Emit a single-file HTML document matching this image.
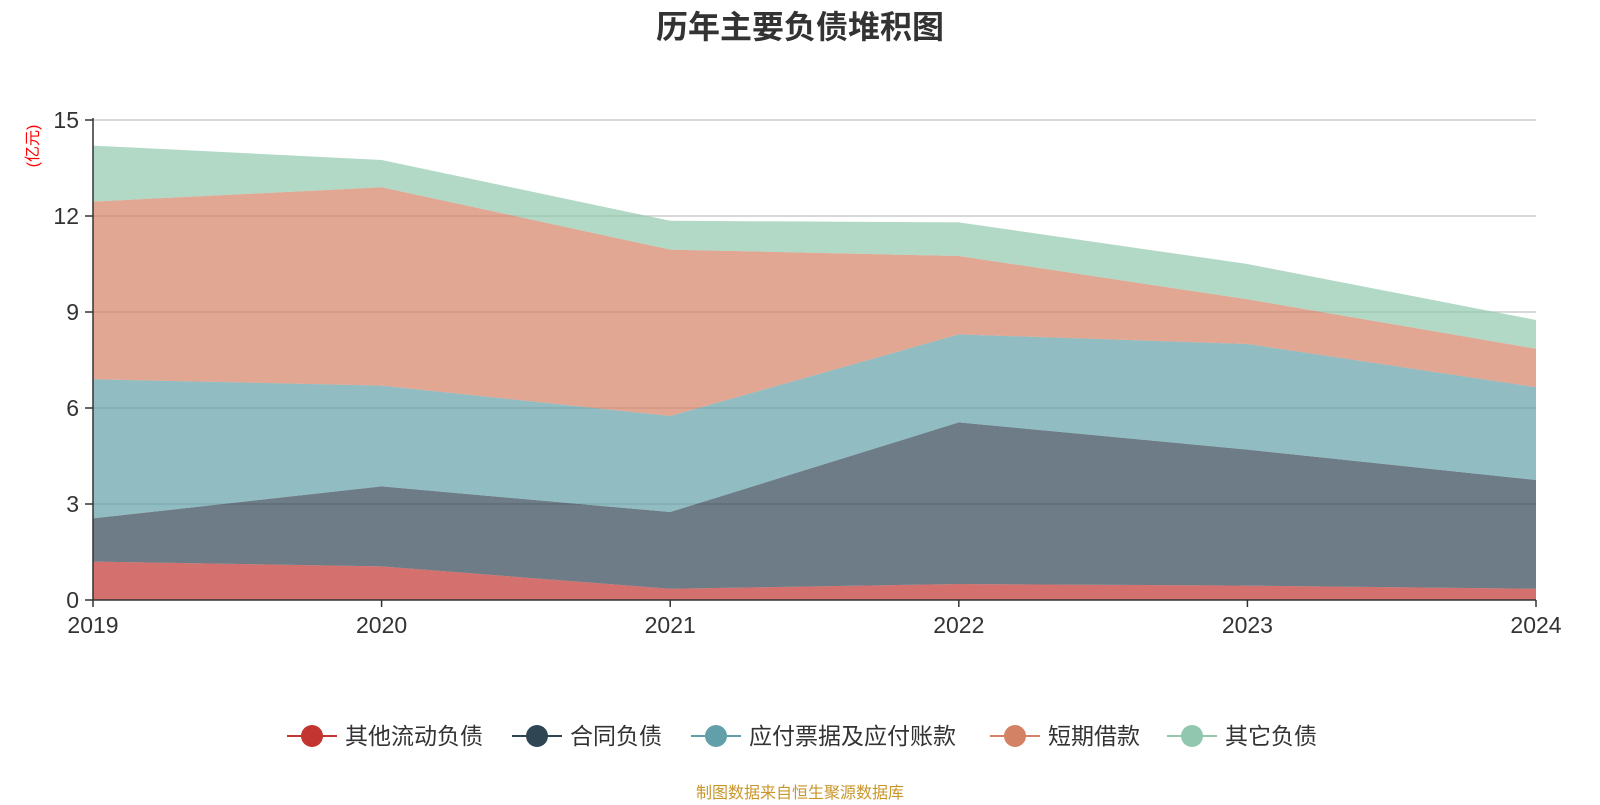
<!DOCTYPE html>
<html><head><meta charset="utf-8"><style>
body{margin:0;background:#fff;font-family:"Liberation Sans","Noto Sans CJK SC",sans-serif}
</style></head><body>
<svg id="c" width="1600" height="800" xmlns="http://www.w3.org/2000/svg" font-family="Liberation Sans, Noto Sans CJK SC, sans-serif">
<text x="800" y="38" text-anchor="middle" font-size="32" font-weight="bold" fill="#333">历年主要负债堆积图</text>
<text transform="translate(38,146) rotate(-90)" text-anchor="middle" font-size="16" fill="#f00">(亿元)</text>
<g id="grid"></g><g id="areas"></g><g id="axes"></g><g id="legend"></g>
<text x="800" y="798" text-anchor="middle" font-size="16" fill="#c8962a">制图数据来自恒生聚源数据库</text>
</svg>
<script>
const categories=["2019","2020","2021","2022","2023","2024"];
const seriesNames=["其他流动负债","合同负债","应付票据及应付账款","短期借款","其它负债"];
const s1=[1.2,1.05,0.35,0.5,0.45,0.35];
const s2=[1.35,2.5,2.4,5.05,4.25,3.4];
const s3=[4.35,3.15,3.0,2.75,3.3,2.9];
const s4=[5.55,6.2,5.2,2.45,1.4,1.2];
const s5=[1.75,0.85,0.9,1.05,1.1,0.9];
const yTicks=[0,3,6,9,12,15];
const colors=["#c23531","#2f4554","#61a0a8","#d48265","#91c7ae"];
const X0=93,X1=1536,Y0=600,Y1=120,YMAX=15;
const x=i=>X0+(X1-X0)*i/(categories.length-1);
const y=v=>Y0-(Y0-Y1)*v/YMAX;
const NS="http://www.w3.org/2000/svg";
function mk(t,a,p){const e=document.createElementNS(NS,t);for(const k in a)e.setAttribute(k,a[k]);p.appendChild(e);return e;}
const grid=document.getElementById('grid'),axes=document.getElementById('axes'),areas=document.getElementById('areas'),leg=document.getElementById('legend');
yTicks.forEach(t=>{
 if(t>0){const l=mk('line',{x1:X0,x2:X1,y1:y(t),y2:y(t),stroke:'#ccc','stroke-width':1.5},grid);
 
 }
 const k=mk('line',{x1:X0-8,x2:X0,y1:y(t),y2:y(t),stroke:'#333','stroke-width':1.5},axes);
 
 
 const tx=mk('text',{x:X0-14,y:y(t)+8,'text-anchor':'end','font-size':23,fill:'#333'},axes);tx.textContent=t;
 
 
});
const all=[s1,s2,s3,s4,s5];let base=categories.map(()=>0);
all.forEach((s,si)=>{
 const top=base.map((b,i)=>b+s[i]);
 let d='M'+top.map((v,i)=>x(i)+','+y(v)).join(' L');
 for(let i=categories.length-1;i>=0;i--)d+=' L'+x(i)+','+y(base[i]);
 const p=mk('path',{d:d+'Z',fill:colors[si],'fill-opacity':0.7},areas);
 
 
 base=top;
});
mk('line',{x1:X0,x2:X0,y1:Y1-2,y2:Y0,stroke:'#333','stroke-width':1.5},axes);
mk('line',{x1:X0,x2:X1,y1:Y0,y2:Y0,stroke:'#333','stroke-width':1.5},axes);
categories.forEach((c,i)=>{
 const k=mk('line',{x1:x(i),x2:x(i),y1:Y0,y2:Y0+7,stroke:'#333','stroke-width':1.5},axes);
 
 
 const t=mk('text',{x:x(i),y:Y0+33,'text-anchor':'middle','font-size':23,fill:'#333'},axes);t.textContent=c;
 
 
});
const lx=[287,512,691,990,1167];
seriesNames.forEach((n,i)=>{
 const g=mk('g',{},leg);
 
 
 mk('line',{x1:lx[i],x2:lx[i]+50,y1:736,y2:736,stroke:colors[i],'stroke-width':2},g);
 mk('circle',{cx:lx[i]+25,cy:736,r:11,fill:colors[i]},g);
 const t=mk('text',{x:lx[i]+58,y:744,'font-size':23,fill:'#333'},g);t.textContent=n;
});
</script>
</body></html>
